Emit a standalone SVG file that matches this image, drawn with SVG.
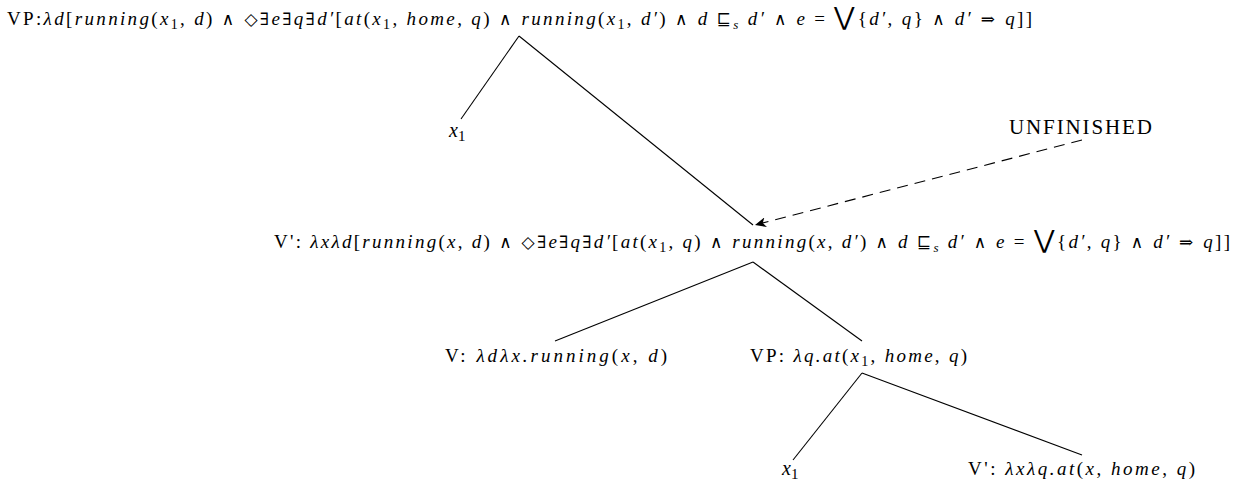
<svg xmlns="http://www.w3.org/2000/svg" width="1253" height="489" viewBox="0 0 1253 489">
<style>
text{font-family:"Liberation Serif","DejaVu Serif",serif;font-size:19px;fill:#000}
.m{font-style:italic}
.r{font-style:normal}
.y{font-style:normal;font-family:"DejaVu Serif","Liberation Serif",serif;font-size:17px}
.sub{font-size:14px;font-style:normal}
.sm{font-size:13px;font-style:italic}
.big{font-size:25px;font-style:normal}
line{stroke:#000;stroke-width:1.1}
.dash{stroke-dasharray:11 7}
</style>
<defs>
<marker id="ah" markerWidth="12" markerHeight="10" refX="11" refY="5" orient="auto" markerUnits="userSpaceOnUse">
<path d="M0,0 L11,5 L0,10 L3,5 Z" fill="#000"/>
</marker>
</defs>
<g id="connectors">
<line x1="519" y1="36" x2="461" y2="119"/>
<line x1="519" y1="36" x2="753" y2="225"/>
<line class="dash" x1="1082" y1="140" x2="755" y2="225" marker-end="url(#ah)"/>
<line x1="753" y1="262" x2="555" y2="341"/>
<line x1="753" y1="262" x2="862" y2="341"/>
<line x1="862" y1="373" x2="793" y2="460"/>
<line x1="862" y1="373" x2="1082" y2="455"/>
</g>
<g id="n-vp-top">
<text x="7" y="25" textLength="1025" lengthAdjust="spacing"><tspan class="r">VP:</tspan><tspan class="m">λd</tspan><tspan class="r">[</tspan><tspan class="m">running</tspan><tspan class="r">(</tspan><tspan class="m">x</tspan><tspan class="sub" dy="4">1</tspan><tspan class="r" dy="-4">, </tspan><tspan class="m">d</tspan><tspan class="r">) </tspan><tspan class="y">∧ ◇∃</tspan><tspan class="m">e</tspan><tspan class="y">∃</tspan><tspan class="m">q</tspan><tspan class="y">∃</tspan><tspan class="m">d′</tspan><tspan class="r">[</tspan><tspan class="m">at</tspan><tspan class="r">(</tspan><tspan class="m">x</tspan><tspan class="sub" dy="4">1</tspan><tspan class="r" dy="-4">, </tspan><tspan class="m">home</tspan><tspan class="r">, </tspan><tspan class="m">q</tspan><tspan class="r">) </tspan><tspan class="y">∧ </tspan><tspan class="m">running</tspan><tspan class="r">(</tspan><tspan class="m">x</tspan><tspan class="sub" dy="4">1</tspan><tspan class="r" dy="-4">, </tspan><tspan class="m">d′</tspan><tspan class="r">) </tspan><tspan class="y">∧ </tspan><tspan class="m">d </tspan><tspan class="y">⊑</tspan><tspan class="sm" dy="4">s</tspan><tspan class="m" dy="-4"> d′</tspan><tspan class="y"> ∧ </tspan><tspan class="m">e</tspan><tspan class="r"> = </tspan><tspan class="big">⋁</tspan><tspan class="r">{</tspan><tspan class="m">d′</tspan><tspan class="r">, </tspan><tspan class="m">q</tspan><tspan class="r">} </tspan><tspan class="y">∧ </tspan><tspan class="m">d′</tspan><tspan class="y"> ⇒ </tspan><tspan class="m">q</tspan><tspan class="r">]]</tspan></text>
</g>
<g id="n-x1-top">
<text x="449" y="137" style="font-size:20px"><tspan class="m">x</tspan><tspan class="sub" dy="4" style="font-size:15px">1</tspan></text>
</g>
<g id="n-unfinished">
<text x="1009" y="134" textLength="143" lengthAdjust="spacing" style="font-size:21px">UNFINISHED</text>
</g>
<g id="n-vbar">
<text x="274" y="248" textLength="956" lengthAdjust="spacing"><tspan class="r">V': </tspan><tspan class="m">λxλd</tspan><tspan class="r">[</tspan><tspan class="m">running</tspan><tspan class="r">(</tspan><tspan class="m">x</tspan><tspan class="r">, </tspan><tspan class="m">d</tspan><tspan class="r">) </tspan><tspan class="y">∧ ◇∃</tspan><tspan class="m">e</tspan><tspan class="y">∃</tspan><tspan class="m">q</tspan><tspan class="y">∃</tspan><tspan class="m">d′</tspan><tspan class="r">[</tspan><tspan class="m">at</tspan><tspan class="r">(</tspan><tspan class="m">x</tspan><tspan class="sub" dy="4">1</tspan><tspan class="r" dy="-4">, </tspan><tspan class="m">q</tspan><tspan class="r">) </tspan><tspan class="y">∧ </tspan><tspan class="m">running</tspan><tspan class="r">(</tspan><tspan class="m">x</tspan><tspan class="r">, </tspan><tspan class="m">d′</tspan><tspan class="r">) </tspan><tspan class="y">∧ </tspan><tspan class="m">d </tspan><tspan class="y">⊑</tspan><tspan class="sm" dy="4">s</tspan><tspan class="m" dy="-4"> d′</tspan><tspan class="y"> ∧ </tspan><tspan class="m">e</tspan><tspan class="r"> = </tspan><tspan class="big">⋁</tspan><tspan class="r">{</tspan><tspan class="m">d′</tspan><tspan class="r">, </tspan><tspan class="m">q</tspan><tspan class="r">} </tspan><tspan class="y">∧ </tspan><tspan class="m">d′</tspan><tspan class="y"> ⇒ </tspan><tspan class="m">q</tspan><tspan class="r">]]</tspan></text>
</g>
<g id="n-v">
<text x="445" y="362" textLength="222" lengthAdjust="spacing"><tspan class="r">V: </tspan><tspan class="m">λdλx.running</tspan><tspan class="r">(</tspan><tspan class="m">x</tspan><tspan class="r">, </tspan><tspan class="m">d</tspan><tspan class="r">)</tspan></text>
</g>
<g id="n-vp">
<text x="750" y="362" textLength="217" lengthAdjust="spacing"><tspan class="r">VP: </tspan><tspan class="m">λq.at</tspan><tspan class="r">(</tspan><tspan class="m">x</tspan><tspan class="sub" dy="4">1</tspan><tspan class="r" dy="-4">, </tspan><tspan class="m">home</tspan><tspan class="r">, </tspan><tspan class="m">q</tspan><tspan class="r">)</tspan></text>
</g>
<g id="n-x1-bottom">
<text x="782" y="475" style="font-size:20px"><tspan class="m">x</tspan><tspan class="sub" dy="4" style="font-size:15px">1</tspan></text>
</g>
<g id="n-vbar-bottom">
<text x="968" y="475" textLength="227" lengthAdjust="spacing"><tspan class="r">V': </tspan><tspan class="m">λxλq.at</tspan><tspan class="r">(</tspan><tspan class="m">x</tspan><tspan class="r">, </tspan><tspan class="m">home</tspan><tspan class="r">, </tspan><tspan class="m">q</tspan><tspan class="r">)</tspan></text>
</g>
</svg>
